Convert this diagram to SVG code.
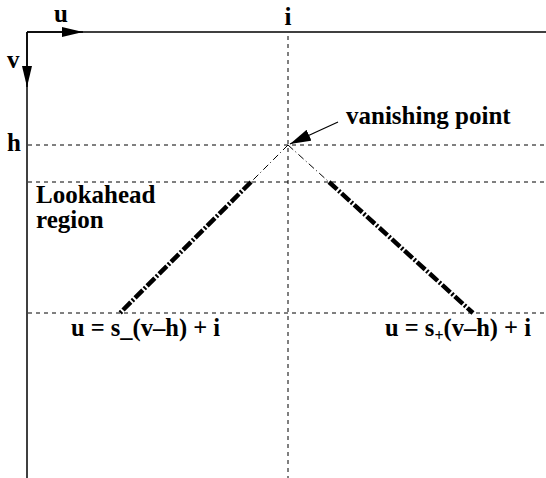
<svg xmlns="http://www.w3.org/2000/svg" width="546" height="478" viewBox="0 0 546 478">
<style>
text{font-family:"Liberation Serif","Times New Roman",serif;font-weight:bold;font-size:25px;fill:#000}
.f{font-size:24.5px}
.axis{stroke:#000;stroke-width:1.5;fill:none}
.dash{stroke:#000;stroke-width:1;stroke-dasharray:4 4;fill:none}
.thin{stroke:#000;stroke-width:1;stroke-dasharray:7 3 1 3;fill:none}
.thick{stroke:#000;stroke-width:4.5;stroke-dasharray:11 2 2 2;fill:none}
</style>
<defs>
<marker id="ah" markerWidth="22" markerHeight="10" refX="21" refY="5" orient="auto" markerUnits="userSpaceOnUse">
<path d="M0,0 L21,5 L0,10 Z" fill="#000"/>
</marker>
<marker id="ah2" markerWidth="22" markerHeight="12" refX="21" refY="6" orient="auto" markerUnits="userSpaceOnUse">
<path d="M0,0 L21,6 L0,12 Z" fill="#000"/>
</marker>
</defs>
<rect width="546" height="478" fill="#fff"/>
<g id="connectors">
<line class="axis" x1="27" y1="32" x2="546" y2="32" stroke="#444"/>
<line class="axis" x1="27" y1="32" x2="27" y2="478"/>
<line class="axis" x1="27" y1="32" x2="83" y2="32" marker-end="url(#ah)"/>
<line class="axis" x1="27" y1="32" x2="27" y2="87" marker-end="url(#ah)"/>
<line class="dash" x1="288" y1="36" x2="288" y2="478"/>
<line class="dash" x1="28" y1="145" x2="546" y2="145"/>
<line class="dash" x1="28" y1="182" x2="546" y2="182"/>
<line class="dash" x1="28" y1="313" x2="546" y2="313"/>
<line class="thin" x1="288" y1="145" x2="251" y2="182"/>
<line class="thin" x1="288" y1="145" x2="329" y2="182"/>
<line class="thick" x1="251" y1="182" x2="120" y2="313"/>
<line class="thick" x1="329" y1="182" x2="473" y2="313"/>
<line stroke="#000" stroke-width="1.2" x1="338" y1="122" x2="290" y2="144" marker-end="url(#ah2)"/>
</g>
<g id="label-u"><text x="54" y="22">u</text></g>
<g id="label-v"><text x="7" y="68">v</text></g>
<g id="label-i"><text x="288" y="25" text-anchor="middle">i</text></g>
<g id="label-h"><text x="7" y="151">h</text></g>
<g id="label-vp"><text x="346" y="124">vanishing point</text></g>
<g id="label-lookahead"><text x="36" y="203">Lookahead</text><text x="36" y="228">region</text></g>
<g id="label-left"><text class="f" x="71" y="336">u = s_(v–h) + i</text></g>
<g id="label-right"><text class="f" x="385" y="336">u = s<tspan font-size="16" dy="5">+</tspan><tspan dy="-5">(v–h) + i</tspan></text></g>
</svg>
